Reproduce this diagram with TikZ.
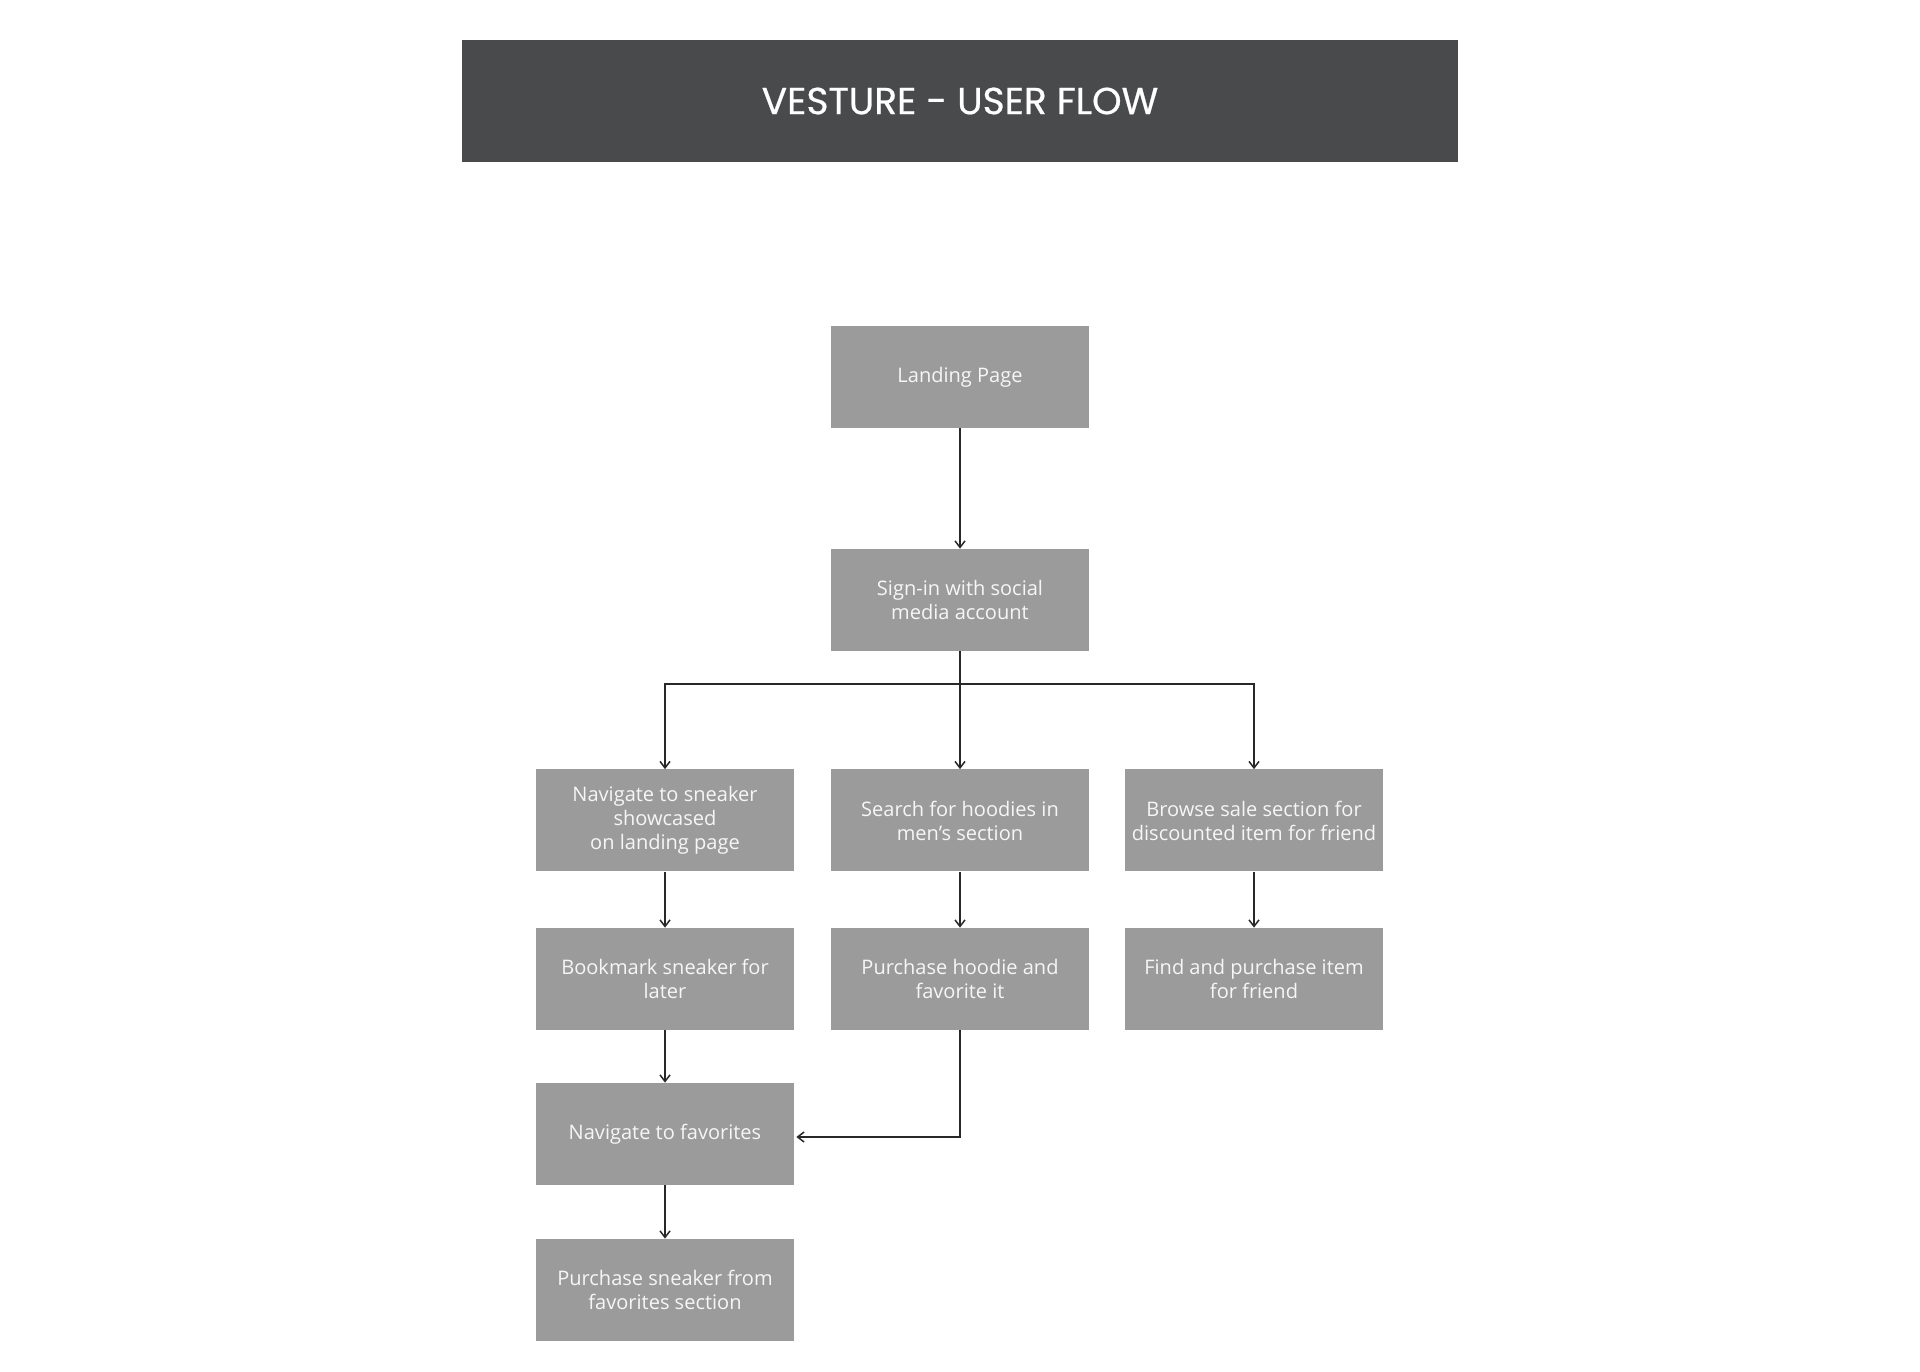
\documentclass[tikz,border=0pt]{standalone}
\usepackage{fontspec}
\setmainfont{Open Sans}
\newfontfamily\titlefont{Poppins}[FakeBold=0.6]
\usetikzlibrary{arrows.meta}
\begin{document}
\begin{tikzpicture}[
  stepbox/.style={shape=rectangle,fill=vesture_box,text=vesture_text,minimum width=5.16cm,minimum height=2.04cm,align=center,inner sep=0pt,font=\fontsize{11.4}{13.7}\selectfont},
  flow/.style={line width=0.03cm,color=vesture_line,-{Straight Barb[length=0.13cm,width=0.2cm,line width=0.03cm]}},
  link/.style={line width=0.03cm,color=vesture_line}]
\definecolor{vesture_box}{RGB}{155,155,155}
\definecolor{vesture_bar}{RGB}{73,74,76}
\definecolor{vesture_text}{RGB}{246,246,246}
\definecolor{vesture_line}{RGB}{40,40,40}
\useasboundingbox (0,0) rectangle (38.4,27.42);
\fill[white] (0,0) rectangle (38.4,27.42);
% title bar
\node[shape=rectangle,fill=vesture_bar,text=white,minimum width=19.92cm,minimum height=2.44cm,font=\titlefont\fontsize{21.4}{24}\selectfont] (title) at (19.2,25.4) {VESTURE - USER FLOW};
% boxes
\node[stepbox] (landing) at (19.2,19.88) {Landing Page};
\node[stepbox] (signin) at (19.2,15.42) {Sign-in with social\\media account};
\node[stepbox] (sneaker) at (13.3,11.01) {Navigate to sneaker\\showcased\\on landing page};
\node[stepbox] (hoodies) at (19.2,11.01) {Search for hoodies in\\men's section};
\node[stepbox] (sale) at (25.08,11.01) {Browse sale section for\\discounted item for friend};
\node[stepbox] (bookmark) at (13.3,7.84) {Bookmark sneaker for\\later};
\node[stepbox] (hoodie) at (19.2,7.84) {Purchase hoodie and\\favorite it};
\node[stepbox] (friend) at (25.08,7.84) {Find and purchase item\\for friend};
\node[stepbox] (favorites) at (13.3,4.74) {Navigate to favorites};
\node[stepbox] (purchase) at (13.3,1.62) {Purchase sneaker from\\favorites section};
% connectors
\coordinate (split) at (19.2,13.74);
\draw[flow] (landing) to (signin);
\draw[flow] (signin) to (hoodies);
\draw[link] (signin.south) to (split);
\draw[flow] (split) -| (sneaker.north);
\draw[flow] (split) -| (sale.north);
\draw[flow] (sneaker) to (bookmark);
\draw[flow] (hoodies) to (hoodie);
\draw[flow] (sale) to (friend);
\draw[flow] (bookmark) to (favorites);
\draw[flow] (hoodie.south) |- ([xshift=0.04cm,yshift=-0.06cm]favorites.east);
\draw[flow] (favorites) to (purchase);
\end{tikzpicture}
\end{document}
